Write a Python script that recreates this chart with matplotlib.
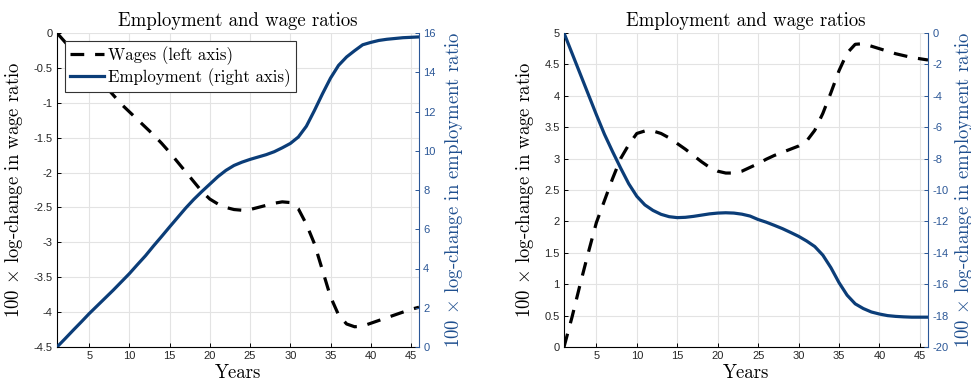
import numpy as np
import matplotlib
matplotlib.use("Agg")
import matplotlib.pyplot as plt

# ---------------- data ----------------
years = list(range(1, 47))

# Left panel
wages_left = [0.00, -0.13, -0.26, -0.39, -0.51, -0.63, -0.76, -0.89, -1.02, -1.13,
              -1.24, -1.35, -1.46, -1.58, -1.71, -1.85, -1.99, -2.13, -2.27, -2.38,
              -2.45, -2.50, -2.53, -2.54, -2.53, -2.50, -2.47, -2.44, -2.42, -2.43,
              -2.52, -2.74, -3.02, -3.40, -3.78, -4.04, -4.17, -4.21, -4.20, -4.16,
              -4.12, -4.08, -4.04, -4.00, -3.96, -3.93]
employment_left = [0.00, 0.42, 0.85, 1.27, 1.70, 2.10, 2.50, 2.90, 3.32, 3.74,
                   4.20, 4.65, 5.15, 5.63, 6.12, 6.60, 7.08, 7.52, 7.92, 8.30,
                   8.68, 9.00, 9.25, 9.42, 9.56, 9.68, 9.80, 9.95, 10.15, 10.37,
                   10.70, 11.25, 12.05, 12.90, 13.70, 14.35, 14.78, 15.10, 15.40, 15.52,
                   15.62, 15.68, 15.72, 15.76, 15.78, 15.80]

# Right panel
wages_right = [0.00, 0.48, 1.00, 1.50, 1.98, 2.33, 2.68, 3.00, 3.22, 3.40,
               3.44, 3.44, 3.40, 3.33, 3.24, 3.15, 3.05, 2.95, 2.86, 2.80,
               2.77, 2.77, 2.80, 2.86, 2.92, 2.99, 3.05, 3.10, 3.15, 3.20,
               3.28, 3.45, 3.72, 4.05, 4.40, 4.68, 4.82, 4.83, 4.79, 4.75,
               4.71, 4.67, 4.64, 4.61, 4.59, 4.57]
employment_right = [0.00, -1.30, -2.60, -3.90, -5.20, -6.45, -7.55, -8.60, -9.60, -10.40,
                    -10.95, -11.30, -11.55, -11.70, -11.76, -11.74, -11.68, -11.60, -11.52, -11.47,
                    -11.45, -11.47, -11.54, -11.66, -11.88, -12.05, -12.25, -12.46, -12.70, -12.95,
                    -13.25, -13.60, -14.15, -14.95, -15.90, -16.70, -17.25, -17.55, -17.77, -17.90,
                    -18.00, -18.05, -18.08, -18.10, -18.10, -18.10]

x_ticks = [5, 10, 15, 20, 25, 30, 35, 40, 45]
left_yticks_l = [0, -0.5, -1, -1.5, -2, -2.5, -3, -3.5, -4, -4.5]
right_yticks_l = [0, 2, 4, 6, 8, 10, 12, 14, 16]
left_yticks_r = [0, 0.5, 1, 1.5, 2, 2.5, 3, 3.5, 4, 4.5, 5]
right_yticks_r = [0, -2, -4, -6, -8, -10, -12, -14, -16, -18, -20]

title = "Employment and wage ratios"
xlabel = "Years"
ylabel_left = r"100 $\times$ log-change in wage ratio"
ylabel_right = r"100 $\times$ log-change in employment ratio"
legend_labels = ["Wages (left axis)", "Employment (right axis)"]

# ---------------- style ----------------
plt.rcParams['mathtext.fontset'] = 'cm'
plt.rcParams['font.family'] = ['cmr10', 'DejaVu Serif']
plt.rcParams['axes.unicode_minus'] = False

BLUE = '#0b3d78'
AXBLUE = '#2b5797'
TICKGREY = '#262626'
GRID = '#e3e3e3'
TICKFONT = dict(family='Liberation Sans', size=8)
SERIF_SIZE = 13.5

fig = plt.figure(figsize=(9.71, 3.83), dpi=100)


def fmt(v):
    return '%g' % v


def make_panel(rect, wages, emp, lyt, ryt, show_legend, rlabelpad):
    ax = fig.add_axes(rect)
    ax2 = ax.twinx()
    ax.set_xlim(1, 46)
    ax.set_ylim(min(lyt), max(lyt))
    ax2.set_ylim(min(ryt), max(ryt))

    l1, = ax.plot(years, wages, color='black', lw=2.3, linestyle=(0, (4.3, 3.4)),
                  dash_capstyle='butt', zorder=3)
    l2, = ax2.plot(years, emp, color=BLUE, lw=2.3, zorder=3)

    ax.set_xticks(x_ticks)
    ax.set_xticklabels([fmt(v) for v in x_ticks], fontdict=TICKFONT, color=TICKGREY)
    ax.set_yticks(lyt)
    ax.set_yticklabels([fmt(v) for v in lyt], fontdict=TICKFONT, color=TICKGREY)
    ax2.set_yticks(ryt)
    ax2.set_yticklabels([fmt(v) for v in ryt], fontdict=TICKFONT, color=AXBLUE)

    ax.grid(True, color=GRID, lw=0.8)
    ax.set_axisbelow(True)
    ax.tick_params(axis='both', direction='in', length=3, width=0.7, colors='black',
                   labelcolor=TICKGREY, pad=3)
    ax2.tick_params(axis='y', direction='in', length=3, width=0.7, colors=AXBLUE,
                    labelcolor=AXBLUE, pad=3)

    ax.spines['top'].set_visible(False)
    ax2.spines['top'].set_visible(False)
    ax2.spines['left'].set_visible(False)
    ax2.spines['bottom'].set_visible(False)
    ax.spines['right'].set_visible(False)
    ax.spines['left'].set_color('black')
    ax.spines['bottom'].set_color('black')
    ax.spines['left'].set_linewidth(0.8)
    ax.spines['bottom'].set_linewidth(0.8)
    ax2.spines['right'].set_color(AXBLUE)
    ax2.spines['right'].set_linewidth(0.8)

    ax.set_title(title, fontsize=SERIF_SIZE, pad=5)
    ax.set_xlabel(xlabel, fontsize=SERIF_SIZE, labelpad=2)
    ax.set_ylabel(ylabel_left, fontsize=SERIF_SIZE, labelpad=6)
    ax2.set_ylabel(ylabel_right, fontsize=SERIF_SIZE, color='#1f4f8f', labelpad=rlabelpad)

    if show_legend:
        leg = ax2.legend([l1, l2], legend_labels, loc='upper left',
                         bbox_to_anchor=(0.0, 1.0), borderaxespad=0.5,
                         fontsize=12.1, fancybox=False, framealpha=1,
                         edgecolor='#333333', handlelength=2.0, handletextpad=0.25,
                         borderpad=0.3, labelspacing=0.2)
        leg.get_frame().set_linewidth(0.8)
    return ax, ax2


make_panel([57 / 971, 36 / 383, 362 / 971, 314 / 383], wages_left, employment_left,
           left_yticks_l, right_yticks_l, True, 5)
make_panel([564 / 971, 36 / 383, 364 / 971, 314 / 383], wages_right, employment_right,
           left_yticks_r, right_yticks_r, False, 3)

fig.savefig('out.png', dpi=100)
